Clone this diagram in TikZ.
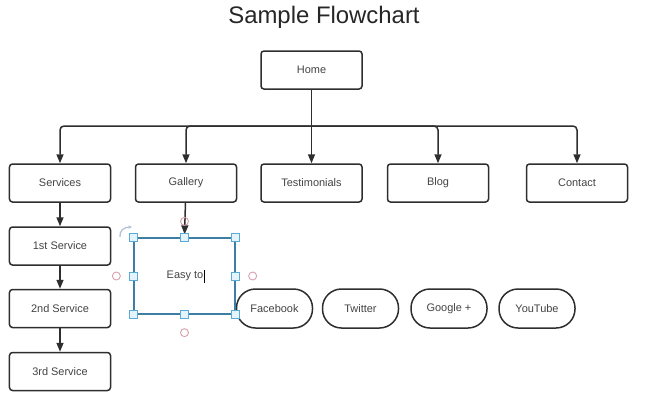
\documentclass[tikz,border=0pt]{standalone}
\usepackage{fontspec}
\setmainfont{Liberation Sans}
\usetikzlibrary{arrows.meta}
\definecolor{linegray}{HTML}{2E2E2E}
\definecolor{selblue}{HTML}{3D7EA6}
\definecolor{handlefill}{HTML}{E4F3FC}
\definecolor{handledraw}{HTML}{5AAAD6}
\definecolor{pinkdot}{HTML}{D7A0AE}
\definecolor{rotgray}{HTML}{B3C2D6}
\begin{document}
\begin{tikzpicture}[x=1bp, y=-1bp,
	page/.style = {draw=linegray, line width=1.5bp, rounded corners=3bp, minimum width=101bp, minimum height=38bp, inner sep=0pt, text=linegray!90, font=\fontsize{11}{13}\selectfont},
	social/.style = {draw=linegray, line width=1.5bp, rounded corners=19bp, minimum width=76bp, minimum height=39bp, inner sep=0pt, text=linegray!90, font=\fontsize{11}{13}\selectfont},
	link/.style = {draw=linegray, line width=1.5bp, -{Triangle[length=9bp, width=7bp]}},
	handle/.style = {draw=handledraw, fill=handlefill, line width=0.9bp, minimum size=8bp, inner sep=0pt},
	dot/.style = {draw=pinkdot, circle, line width=0.9bp, minimum size=8bp, inner sep=0pt}]
	
	\useasboundingbox (0,0) rectangle (648,411);
	
	\node[anchor=base, text=black!85, font=\fontsize{24}{28}\selectfont] (title) at (324,23) {Sample Flowchart};
	
	\node[page] (home) at (311.5,70) {Home};
	
	\node[page] (services) at (60,183) {Services};
	\node[page] (gallery) at (186,183) {Gallery};
	\node[page] (testimonials) at (311.5,183) {Testimonials};
	\node[page] (blog) at (438,183) {Blog};
	\node[page] (contact) at (577,183) {Contact};
	
	\node[page] (first) at (60,246) {1st Service};
	\node[page] (second) at (60,308.5) {2nd Service};
	\node[page] (third) at (60,371.5) {3rd Service};
	
	\node[social] (facebook) at (274.5,308.5) {Facebook};
	\node[social] (twitter) at (360.5,308.5) {Twitter};
	\node[social] (google) at (449,308.5) {Google +};
	\node[social] (youtube) at (537,308.5) {YouTube};
	
	\coordinate (hub) at (311.5,126);
	
	\draw[draw=linegray, line width=1.5bp] (home) -- (hub);
	\draw[link, rounded corners=4bp] (hub) -| (services);
	\draw[link, rounded corners=4bp] (hub) -| (gallery);
	\draw[link] (hub) -- (testimonials);
	\draw[link, rounded corners=4bp] (hub) -| (blog);
	\draw[link, rounded corners=4bp] (hub) -| (contact);
	
	\draw[link] (services) -- (first);
	\draw[link] (first) -- (second);
	\draw[link] (second) -- (third);
	
	% box being edited
	\node[draw=selblue, line width=1.3bp, minimum width=101bp, minimum height=76bp, inner sep=0pt] (editbox) at (184.5,276) {};
	\node[anchor=west, inner sep=0pt, text=linegray!90, font=\fontsize{11}{13}\selectfont] (easytext) at (166.5,276) {Easy to};
	\draw[black, line width=0.9bp] ([xshift=1.5bp, yshift=-6.5bp]easytext.east) -- ([xshift=1.5bp, yshift=6.5bp]easytext.east);
	
	\draw[link, shorten >=3bp] (gallery) -- (editbox.north);
	
	\foreach \a [count=\i] in {north west, north, north east, east, south east, south, south west, west}
		\node[handle] (h\i) at (editbox.\a) {};
	
	\node[dot] (dtop) at ([yshift=16bp]editbox.north) {};
	\node[dot] (dleft) at ([xshift=-17bp]editbox.west) {};
	\node[dot] (dright) at ([xshift=17bp]editbox.east) {};
	\node[dot] (dbottom) at ([yshift=-18bp]editbox.south) {};
	
	\draw[rotgray, line width=1.3bp, -{Stealth[length=3.5bp, width=3.5bp]}] (120,237) .. controls (119,231) and (124,227) .. (132,227);
	
\end{tikzpicture}
\end{document}
